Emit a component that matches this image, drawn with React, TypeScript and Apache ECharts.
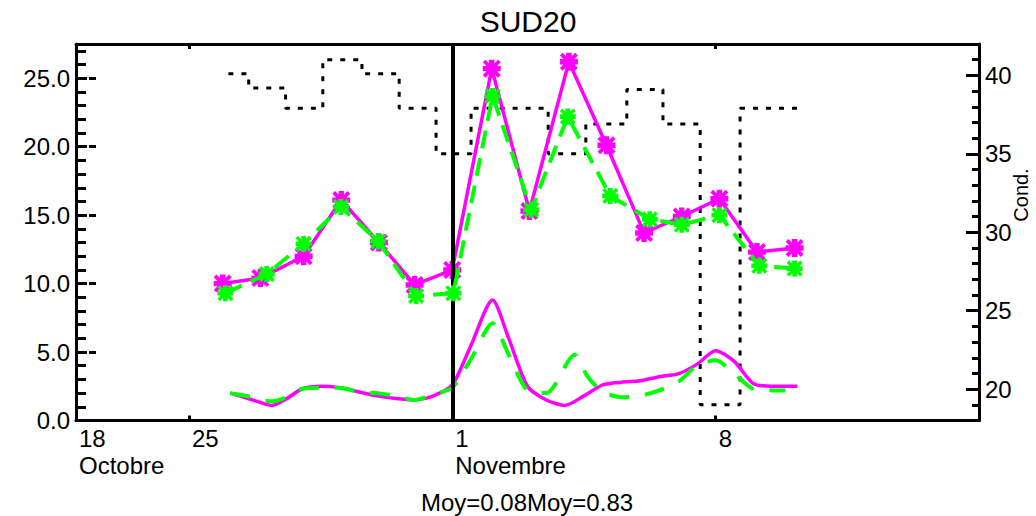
import React, { useEffect, useRef } from "react";
import * as echarts from "echarts";

// ---- texts ----
const chartTitle = "SUD20";
const footerText = "Moy=0.08Moy=0.83";
const rightAxisName = "Cond.";

// ---- x axis (days counted from 18 Oct) ----
const xMin = 4;
const xMax = 28;
const xTickDays = [7, 14, 21];
const xLabelDays = [4, 7, 14, 21];
const xLabelTexts = ["18\nOctobre", "25", "1\nNovembre", "8"];
const dayMarker = 14; // 1 Novembre

// ---- y axes ----
const leftTicks = [0, 5, 10, 15, 20, 25];
const rightTicks = [20, 25, 30, 35, 40];

// ---- upper magenta (left axis) ----
const upperMagentaDays = [7.9, 8.9, 10.05, 11.05, 12.05, 13.0, 14.0, 15.05, 16.05, 17.1, 18.1, 19.1, 20.1, 21.1, 22.1, 23.1];
const upperMagenta = [10.0, 10.4, 12.0, 16.1, 13.0, 9.9, 11.0, 25.7, 15.3, 26.2, 20.1, 13.7, 14.9, 16.2, 12.3, 12.6];

// ---- upper green (left axis) ----
const upperGreenDays = [7.97, 9.07, 10.05, 11.04, 12.03, 13.04, 14.03, 15.07, 16.1, 17.07, 18.2, 19.25, 20.1, 21.1, 22.16, 23.1];
const upperGreen = [9.3, 10.7, 12.9, 15.6, 13.1, 9.1, 9.3, 23.7, 15.4, 22.2, 16.4, 14.7, 14.3, 15.0, 11.3, 11.1];

// ---- lower magenta (left axis) ----
const lowerMagentaDays = [8.1, 8.7, 9.2, 9.6, 10.0, 10.5, 11.0, 11.5, 12.0, 12.5, 13.0, 13.5, 14.0, 14.5, 15.07, 15.5, 16.0, 16.5, 17.0, 17.5, 18.0, 18.5, 19.0, 19.5, 20.0, 20.5, 21.0, 21.5, 22.0, 22.5, 23.17];
const lowerMagenta = [2.0, 1.5, 1.1, 1.6, 2.3, 2.5, 2.4, 2.1, 1.8, 1.6, 1.5, 1.8, 2.6, 5.5, 8.8, 6.0, 2.5, 1.5, 1.1, 1.8, 2.6, 2.8, 2.9, 3.2, 3.4, 4.1, 5.1, 4.3, 2.7, 2.5, 2.5];

// ---- lower green (left axis) ----
const lowerGreenDays = [8.1, 8.7, 9.2, 9.6, 10.0, 10.5, 11.0, 11.5, 12.0, 12.5, 13.0, 13.5, 14.0, 14.5, 15.07, 15.5, 16.0, 16.5, 17.25, 17.6, 18.0, 18.5, 19.0, 19.5, 20.0, 20.5, 21.0, 21.5, 22.0, 22.5, 22.85];
const lowerGreen = [2.0, 1.7, 1.4, 1.7, 2.3, 2.4, 2.4, 2.1, 2.0, 1.8, 1.5, 1.9, 2.4, 4.5, 7.1, 4.8, 2.2, 2.0, 4.8, 3.2, 2.1, 1.7, 1.8, 2.2, 2.8, 4.0, 4.4, 3.4, 2.3, 2.2, 2.2];

// ---- black dotted step line (right axis) ----
const stepDays = [8.05, 8.59, 9.57, 10.56, 11.6, 12.59, 13.57, 14.5, 16.55, 17.55, 18.64, 19.6, 20.59, 21.65];
const stepValues = [40.1, 39.2, 37.9, 41.0, 40.1, 37.9, 35.0, 37.9, 35.0, 36.9, 39.1, 36.9, 19.0, 37.9];
const stepEndDay = 23.17;

const FONT = "Liberation Sans";
const MAGENTA = "#ff00ff";
const GREEN = "#00ff00";
const ASTERISK =
  "path://M0,3.5H10V6.5H0Z M3.5,0H6.5V10H3.5Z M0,1.5L1.5,0L10,8.5L8.5,10Z M8.5,0L10,1.5L1.5,10L0,8.5Z";

const pairs = (xs: number[], ys: number[]) => xs.map((x, i) => [x, ys[i]]);

function stepPoints(): number[][] {
  const pts: number[][] = [];
  for (let i = 0; i < stepDays.length; i++) {
    const next = i + 1 < stepDays.length ? stepDays[i + 1] : stepEndDay;
    pts.push([stepDays[i], stepValues[i]]);
    pts.push([next, stepValues[i]]);
  }
  return pts;
}

export default function App() {
  const ref = useRef<HTMLDivElement>(null);

  useEffect(() => {
    if (!ref.current) return;
    const chart = echarts.init(ref.current, null, { renderer: "svg" });

    const axisLineStyle = { color: "#000", width: 3 };
    const xAxisCommon = {
      type: "value",
      min: xMin,
      max: xMax,
      splitLine: { show: false },
      axisLine: { show: true, onZero: false, lineStyle: axisLineStyle },
      axisTick: {
        show: true,
        inside: true,
        length: 5,
        customValues: xTickDays,
        lineStyle: { color: "#000", width: 3 },
      },
    };

    const option: any = {
      animation: false,
      backgroundColor: "#fff",
      title: {
        text: chartTitle,
        left: 528,
        top: 6,
        padding: 0,
        textAlign: "center",
        textStyle: { fontSize: 30, fontWeight: "normal", color: "#000", fontFamily: FONT },
      },
      grid: { left: 76, right: 57, top: 44, bottom: 95.5, containLabel: false, outerBoundsMode: "none" },
      xAxis: [
        {
          ...xAxisCommon,
          position: "bottom",
          axisLabel: {
            show: true,
            customValues: xLabelDays,
            formatter: (v: number) => {
              const i = xLabelDays.findIndex((d) => Math.abs(d - v) < 1e-6);
              return i >= 0 ? xLabelTexts[i] : "";
            },
            align: "left",
            padding: [0, 0, 0, 3],
            margin: 4,
            fontSize: 24,
            lineHeight: 27,
            color: "#000",
            fontFamily: FONT,
          },
        },
        {
          ...xAxisCommon,
          position: "top",
          axisLabel: { show: false },
        },
      ],
      yAxis: [
        {
          type: "value",
          min: 0,
          max: 27.5,
          position: "left",
          splitLine: { show: false },
          axisLine: { show: true, onZero: false, lineStyle: axisLineStyle },
          axisTick: {
            show: true,
            inside: true,
            length: 20,
            customValues: leftTicks,
            lineStyle: { color: "#000", width: 3, type: [11, 2] },
          },
          axisLabel: {
            show: true,
            customValues: leftTicks,
            formatter: (v: number) => v.toFixed(1),
            margin: 6,
            fontSize: 24,
            color: "#000",
            fontFamily: FONT,
          },
        },
        {
          type: "value",
          min: 0,
          max: 27.5,
          interval: 1,
          position: "left",
          splitLine: { show: false },
          axisLine: { show: false },
          axisTick: { show: true, inside: true, length: 10, lineStyle: { color: "#000", width: 3 } },
          axisLabel: { show: false },
        },
        {
          type: "value",
          min: 18,
          max: 42,
          position: "right",
          splitLine: { show: false },
          axisLine: { show: true, onZero: false, lineStyle: axisLineStyle },
          axisTick: {
            show: true,
            inside: true,
            length: 13,
            customValues: rightTicks,
            lineStyle: { color: "#000", width: 3 },
          },
          axisLabel: {
            show: true,
            customValues: rightTicks,
            margin: 6,
            fontSize: 24,
            color: "#000",
            fontFamily: FONT,
          },
        },
        {
          type: "value",
          min: 18,
          max: 42,
          interval: 1,
          position: "right",
          splitLine: { show: false },
          axisLine: { show: false },
          axisTick: { show: true, inside: true, length: 7, lineStyle: { color: "#000", width: 3 } },
          axisLabel: { show: false },
        },
      ],
      graphic: [
        {
          type: "text",
          x: 527,
          y: 502,
          style: {
            text: footerText,
            fontSize: 24,
            fontFamily: FONT,
            fill: "#000",
            align: "center",
            verticalAlign: "middle",
          },
        },
        {
          type: "text",
          x: 1011,
          y: 195,
          rotation: Math.PI / 2,
          style: {
            text: rightAxisName,
            fontSize: 20,
            fontFamily: FONT,
            fill: "#000",
            align: "center",
            verticalAlign: "top",
          },
        },
      ],
      series: [
        {
          name: "step",
          type: "line",
          xAxisIndex: 0,
          yAxisIndex: 2,
          data: stepPoints(),
          symbol: "none",
          lineStyle: { color: "#000", width: 3, type: [5, 8] },
          z: 1,
          markLine: {
            silent: true,
            symbol: "none",
            label: { show: false },
            lineStyle: { color: "#000", width: 4, type: "solid" },
            data: [{ xAxis: dayMarker }],
          },
        },
        {
          name: "lowerMagenta",
          type: "line",
          xAxisIndex: 0,
          yAxisIndex: 0,
          data: pairs(lowerMagentaDays, lowerMagenta),
          symbol: "none",
          smooth: 0.25,
          lineStyle: { color: MAGENTA, width: 3.5 },
          z: 2,
        },
        {
          name: "upperMagenta",
          type: "line",
          xAxisIndex: 0,
          yAxisIndex: 0,
          data: pairs(upperMagentaDays, upperMagenta),
          symbol: ASTERISK,
          symbolSize: 18,
          showSymbol: true,
          showAllSymbol: true,
          itemStyle: { color: MAGENTA },
          lineStyle: { color: MAGENTA, width: 3.5 },
          z: 3,
        },
        {
          name: "lowerGreen",
          type: "line",
          xAxisIndex: 0,
          yAxisIndex: 0,
          data: pairs(lowerGreenDays, lowerGreen),
          symbol: "none",
          smooth: 0.25,
          lineStyle: { color: GREEN, width: 4, type: [20, 16] },
          z: 4,
        },
        {
          name: "upperGreen",
          type: "line",
          xAxisIndex: 0,
          yAxisIndex: 0,
          data: pairs(upperGreenDays, upperGreen),
          symbol: ASTERISK,
          symbolSize: 16,
          showSymbol: true,
          showAllSymbol: true,
          itemStyle: { color: GREEN },
          lineStyle: { color: GREEN, width: 4, type: [18, 10] },
          z: 5,
        },
      ],
    };

    chart.setOption(option);
    return () => chart.dispose();
  }, []);

  return (
    <div
      ref={ref}
      style={{ position: "absolute", left: 0, top: 0, width: 1036, height: 516, background: "#fff" }}
    />
  );
}
